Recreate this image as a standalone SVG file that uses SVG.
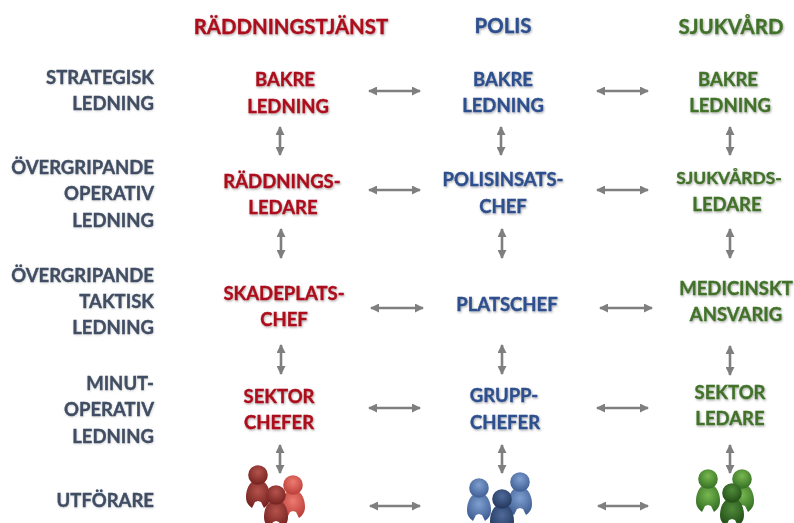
<svg xmlns="http://www.w3.org/2000/svg" width="794" height="523" viewBox="0 0 794 523">
<style>
text{font-family:Lato,"Liberation Sans",sans-serif;font-weight:700;text-anchor:middle;filter:url(#sh);stroke-width:.35px;paint-order:stroke}
.h{font-size:20.4px}.t{font-size:18.5px}
.l{font-size:18.5px;text-anchor:end;fill:#3f4d62;stroke:#3f4d62;filter:url(#sl)}
.r{fill:#ac0f1c;stroke:#ac0f1c}.b{fill:#2f4f8e;stroke:#2f4f8e}.g{fill:#42722a;stroke:#42722a}
.a{stroke:#7f7f7f;stroke-width:2.6;fill:none;marker-start:url(#ah);marker-end:url(#ah)}
.rd{fill:url(#rd)}.rl{fill:url(#rl)}.bd{fill:url(#bd)}.bm{fill:url(#bm)}.gd{fill:url(#gd)}.gm{fill:url(#gm)}
</style>
<defs>
<filter id="sh" x="-10%" y="-20%" width="120%" height="150%"><feDropShadow dx="0.8" dy="1.2" stdDeviation="1" flood-color="#000" flood-opacity="0.35"/></filter>
<filter id="sl" x="-10%" y="-20%" width="120%" height="150%"><feDropShadow dx="0.5" dy="0.8" stdDeviation="0.8" flood-color="#000" flood-opacity="0.18"/></filter>
<marker id="ah" viewBox="0 0 9 9" refX="8" refY="4.5" markerWidth="9" markerHeight="9" markerUnits="userSpaceOnUse" orient="auto-start-reverse"><path d="M0 0L9 4.5L0 9Z" fill="#7f7f7f"/></marker>
<radialGradient id="rd" cx=".5" cy=".35" r=".7"><stop offset="0" stop-color="#b5524c"/><stop offset="1" stop-color="#6f1f1c"/></radialGradient>
<radialGradient id="rl" cx=".5" cy=".35" r=".7"><stop offset="0" stop-color="#ee7a70"/><stop offset="1" stop-color="#b53a34"/></radialGradient>
<radialGradient id="bd" cx=".5" cy=".35" r=".7"><stop offset="0" stop-color="#4f6a9a"/><stop offset="1" stop-color="#1f3358"/></radialGradient>
<radialGradient id="bm" cx=".5" cy=".35" r=".7"><stop offset="0" stop-color="#7f9fd0"/><stop offset="1" stop-color="#3a5a90"/></radialGradient>
<radialGradient id="gd" cx=".5" cy=".35" r=".7"><stop offset="0" stop-color="#4f8a3a"/><stop offset="1" stop-color="#1f4a14"/></radialGradient>
<radialGradient id="gm" cx=".5" cy=".35" r=".7"><stop offset="0" stop-color="#78b850"/><stop offset="1" stop-color="#2f6a20"/></radialGradient>
<g id="p"><path d="M-6 7C-10 10-12 16-12 22C-12 27-10 30-6 33L-3 27L0 26L3 27L6 33C10 30 12 27 12 22C12 16 10 10 6 7Z"/><circle r="9.8"/></g>
</defs>
<rect width="794" height="523" fill="#fff"/>
<g id="connectors">
<path class="a" d="M369 91H420"/><path class="a" d="M369 190H420"/><path class="a" d="M371 308H423"/><path class="a" d="M369 408H420"/><path class="a" d="M370 506H420"/>
<path class="a" d="M597 91H648"/><path class="a" d="M597 190H648"/><path class="a" d="M600 308H652"/><path class="a" d="M597 408H648"/><path class="a" d="M598 506H648"/>
<path class="a" d="M280 127V155"/><path class="a" d="M281 229V258"/><path class="a" d="M281 345V374"/><path class="a" d="M280 445V473"/>
<path class="a" d="M501 127V155"/><path class="a" d="M502 229V258"/><path class="a" d="M502 345V374"/><path class="a" d="M502 445V473"/>
<path class="a" d="M730 127V155"/><path class="a" d="M730 229V258"/><path class="a" d="M730 346V375"/><path class="a" d="M730 445V473"/>
</g>
<g id="headers">
<text class="h r" x="291" y="34">RÄDDNINGSTJÄNST</text>
<text class="h b" x="503" y="33">POLIS</text>
<text class="h g" x="731" y="34">SJUKVÅRD</text>
</g>
<g id="levels">
<g id="lvl-strategisk"><text class="l" x="154" y="84">STRATEGISK</text><text class="l" x="154" y="110">LEDNING</text></g>
<g id="lvl-operativ"><text class="l" x="154" y="174">ÖVERGRIPANDE</text><text class="l" x="154" y="200">OPERATIV</text><text class="l" x="154" y="227">LEDNING</text></g>
<g id="lvl-taktisk"><text class="l" x="154" y="282">ÖVERGRIPANDE</text><text class="l" x="154" y="308">TAKTISK</text><text class="l" x="154" y="334">LEDNING</text></g>
<g id="lvl-minut"><text class="l" x="154" y="390">MINUT-</text><text class="l" x="154" y="416">OPERATIV</text><text class="l" x="154" y="443">LEDNING</text></g>
<g id="lvl-utforare"><text class="l" x="154" y="507">UTFÖRARE</text></g>
</g>
<g id="n-r1"><text class="t r" x="285" y="86">BAKRE</text><text class="t r" x="288" y="113">LEDNING</text></g>
<g id="n-r2"><text class="t r" x="282" y="188">RÄDDNINGS-</text><text class="t r" x="283" y="214">LEDARE</text></g>
<g id="n-r3"><text class="t r" x="284" y="300">SKADEPLATS-</text><text class="t r" x="284" y="326">CHEF</text></g>
<g id="n-r4"><text class="t r" x="279" y="403">SEKTOR</text><text class="t r" x="279" y="429">CHEFER</text></g>
<g id="n-b1"><text class="t b" x="503" y="86">BAKRE</text><text class="t b" x="503" y="112">LEDNING</text></g>
<g id="n-b2"><text class="t b" x="503" y="186">POLISINSATS-</text><text class="t b" x="503" y="213">CHEF</text></g>
<g id="n-b3"><text class="t b" x="507" y="311">PLATSCHEF</text></g>
<g id="n-b4"><text class="t b" x="504" y="402">GRUPP-</text><text class="t b" x="505" y="429">CHEFER</text></g>
<g id="n-g1"><text class="t g" x="728" y="86">BAKRE</text><text class="t g" x="730" y="112">LEDNING</text></g>
<g id="n-g2"><text class="t g" x="729" y="184" font-size="17.4" style="font-size:17.4px">SJUKVÅRDS-</text><text class="t g" x="727" y="211">LEDARE</text></g>
<g id="n-g3"><text class="t g" x="736" y="295">MEDICINSKT</text><text class="t g" x="736" y="321">ANSVARIG</text></g>
<g id="n-g4"><text class="t g" x="730" y="399">SEKTOR</text><text class="t g" x="730" y="425">LEDARE</text></g>
<g id="n-r5"><use href="#p" class="rd" x="258" y="475"/><use href="#p" class="rl" x="293" y="485"/><use href="#p" class="rd" x="276" y="495"/></g>
<g id="n-b5"><use href="#p" class="bm" x="479" y="488"/><use href="#p" class="bm" x="520" y="482"/><use href="#p" class="bd" x="502" y="499"/></g>
<g id="n-g5"><use href="#p" class="gm" x="708" y="479"/><use href="#p" class="gm" x="742" y="479"/><use href="#p" class="gd" x="732" y="493"/></g>
</svg>
